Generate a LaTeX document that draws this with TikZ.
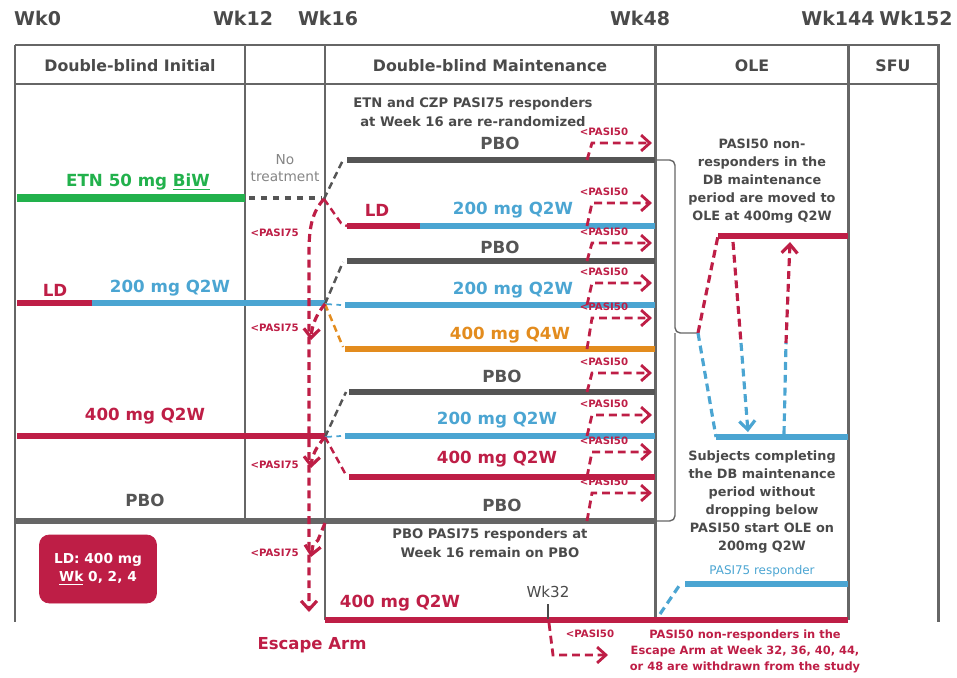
\documentclass[tikz,border=0pt]{standalone}
\usepackage{fontspec}
\setmainfont{DejaVu Sans}
\usetikzlibrary{arrows.meta,positioning,calc}
\definecolor{ink}{HTML}{4A4A4A}
\definecolor{frame}{HTML}{666666}
\definecolor{bargray}{HTML}{555555}
\definecolor{crimson}{HTML}{BE1E46}
\definecolor{sky}{HTML}{4BA5D2}
\definecolor{leaf}{HTML}{22B14C}
\definecolor{amber}{HTML}{E38C1E}
\tikzset{
  wklabel/.style={font=\bfseries\fontsize{10.8}{13}\selectfont, text=ink},
  header/.style={font=\bfseries\fontsize{9}{11}\selectfont, text=ink},
  frameline/.style={draw=frame, line width=1.7pt},
  armbar/.style={draw=#1, line width=3.4pt},
  armlabel/.style={font=\bfseries\fontsize{9.5}{11}\selectfont, text=#1},
  note/.style={font=\bfseries\fontsize{7.5}{10.6}\selectfont, text=ink, align=center},
  olenote/.style={font=\bfseries\fontsize{7.3}{10.2}\selectfont, text=ink, align=center},
  pasi/.style={font=\bfseries\fontsize{5.8}{7}\selectfont, text=crimson},
  escflow/.style={draw=#1, line width=1.8pt, dash pattern=on 4.5pt off 2.8pt},
  branch/.style={draw=#1, line width=1.4pt, dash pattern=on 4pt off 2.5pt},
  chev/.style={-{Straight Barb[length=5pt,width=9pt]}},
  brace/.style={draw=frame, line width=0.8pt, rounded corners=3pt}
}
\begin{document}
\begin{tikzpicture}[x=0.02cm,y=-0.02cm]
\useasboundingbox (0,0) rectangle (957,677);

% Week labels
\node[wklabel, anchor=west] (wk0) at (8,18) {Wk0};
\node[wklabel] (wk12) at (243,18) {Wk12};
\node[wklabel] (wk16) at (328,18) {Wk16};
\node[wklabel] (wk48) at (640,18) {Wk48};
\node[wklabel] (wk144) at (838,18) {Wk144};
\node[wklabel] (wk152) at (916,18) {Wk152};

% Frame
\draw[frameline] (15,45) -- (940,45);
\draw[frameline] (15,84) -- (940,84);
\draw[frameline] (15,45) -- (15,622);
\draw[frameline] (245,45) -- (245,521);
\draw[frameline] (325,45) -- (325,620);
\draw[frameline] (655,45) -- (655,620);
\draw[frameline] (848,45) -- (848,620);
\draw[frameline] (938,45) -- (938,622);
\draw[armbar=frame] (15,521) -- (655,521);
\node[header] (hinit) at (130,66) {Double-blind Initial};
\node[header] (hmaint) at (490,66) {Double-blind Maintenance};
\node[header] (hole) at (752,66) {OLE};
\node[header] (hsfu) at (893,66) {SFU};

% Initial period
\node[armlabel=leaf] (etn) at (138,182) {ETN 50 mg \underline{BiW}};
\draw[armbar=leaf, line width=4pt] (17,198) -- (245,198);
\node[font=\fontsize{7.8}{10}\selectfont, text=frame!80, align=center] (notrt) at (285,168) {No\\treatment};
\draw[bargray, line width=2.8pt, dash pattern=on 3.4pt off 3.4pt] (249,198) -- (322,198);
\node[armlabel=crimson] (ldl) at (55,290) {LD};
\node[armlabel=sky] (czpa) at (170,288) {200 mg Q2W};
\draw[armbar=crimson] (17,303) -- (92,303);
\draw[armbar=sky] (92,303) -- (325,303);
\node[armlabel=crimson] (czpb) at (145,416) {400 mg Q2W};
\draw[armbar=crimson] (17,436) -- (325,436);
\node[armlabel=bargray] (pboi) at (145,500) {PBO};
\node[draw=crimson, fill=crimson, rounded corners=5.5pt, minimum width=2.34cm, minimum height=1.36cm, align=center, text=white, font=\bfseries\fontsize{7.8}{10.5}\selectfont] (ldkey) at (98,569) {LD: 400 mg\\\underline{Wk} 0, 2, 4};

% Week 16 junctions
\coordinate (j1) at (324,199);
\coordinate (j2) at (325,304);
\coordinate (j3) at (325,437);
\coordinate (j4) at (325,523);
\draw[branch=bargray] (j1) -- (343,160);
\draw[branch=crimson] (j1) -- (341,223) -- (347,226);
\draw[branch=bargray] (j2) -- (343,262);
\draw[branch=sky, line width=1pt] (j2) -- (341,305);
\draw[branch=amber] (j2) -- (343,347);
\draw[branch=bargray] (j3) -- (346,392);
\draw[branch=sky, line width=1pt] (j3) -- (341,436);
\draw[branch=crimson] (j3) -- (346,475);

% Escape arm
\coordinate (escend) at (309,612);
\draw[escflow=crimson, chev] (j1) .. controls (312,212) and (309,228) .. (309,252) -- (escend);
\draw[escflow=crimson, chev] (j2) .. controls (316,315) and (312,325) .. (311,340);
\draw[escflow=crimson, chev] (j3) .. controls (316,447) and (312,456) .. (311,468);
\draw[escflow=crimson, chev] (j4) -- (318,540) -- (313,545) -- (311,557);
\foreach \y [count=\i] in {233,328,465,553}
  \node[pasi, anchor=east] (lt\i) at (305,\y) {<PASI75};
\node[font=\bfseries\fontsize{9.4}{11}\selectfont, text=crimson] (escarm) at (312,645) {Escape Arm};

% Maintenance arms
\node[note] (rerand) at (473,112) {ETN and CZP PASI75 responders\\at Week 16 are re-randomized};
\draw[armbar=bargray] (347,160) -- (655,160);
\node[armlabel=bargray] (pbo1) at (500,143) {PBO};
\node[armlabel=crimson] (ldm) at (377,210) {LD};
\node[armlabel=sky] (m1) at (513,210) {200 mg Q2W};
\draw[armbar=crimson] (347,226) -- (420,226);
\draw[armbar=sky] (420,226) -- (655,226);
\node[armlabel=bargray] (pbo2) at (500,247) {PBO};
\draw[armbar=bargray] (347,261) -- (655,261);
\node[armlabel=sky] (m2) at (513,290) {200 mg Q2W};
\draw[armbar=sky] (345,305) -- (655,305);
\node[armlabel=amber] (m3) at (510,335) {400 mg Q4W};
\draw[armbar=amber] (345,349) -- (655,349);
\node[armlabel=bargray] (pbo3) at (502,376) {PBO};
\draw[armbar=bargray] (349,392) -- (655,392);
\node[armlabel=sky] (m4) at (497,420) {200 mg Q2W};
\draw[armbar=sky] (345,436) -- (655,436);
\node[armlabel=crimson] (m5) at (497,459) {400 mg Q2W};
\draw[armbar=crimson] (349,477) -- (655,477);
\node[armlabel=bargray] (pbo4) at (502,505) {PBO};

% <PASI50 exits
\foreach \b/\a [count=\i] in {160/143,226/203,261/243,305/283,349/318,392/373,436/415,477/452,521/493}{
  \coordinate (pb\i) at (587,\b);
  \coordinate (pa\i) at (652,\a);
  \draw[escflow=crimson, line width=1.6pt, chev] (pb\i) -- ([xshift=0.1cm]pb\i |- pa\i) -- (pa\i);
  \node[pasi] (pl\i) at (604,\a-11) {<PASI50};
}

% PBO remain and escape bar
\node[note] (pboremain) at (490,543) {PBO PASI75 responders at\\Week 16 remain on PBO};
\node[armlabel=crimson] (escdose) at (400,603) {400 mg Q2W};
\draw[armbar=crimson] (325,620) -- (848,620);
\node[font=\fontsize{8.6}{10}\selectfont, text=ink] (wk32) at (548,592) {Wk32};
\draw[draw=ink, line width=1.2pt] (wk32.south) -- (548,619);
\coordinate (wdr) at (608,655);
\draw[escflow=crimson, line width=1.6pt, chev] (549,623) -- (553,655) -- (wdr);
\node[pasi] (pl10) at (590,634) {<PASI50};
\node[font=\bfseries\fontsize{6.5}{9.1}\selectfont, text=crimson, align=center] (withdraw) at (745,651) {PASI50 non-responders in the\\Escape Arm at Week 32, 36, 40, 44,\\or 48 are withdrawn from the study};

% OLE
\draw[brace] (655,160) -| (675,333) -- (698,333);
\draw[brace] (655,521) -| (675,333);
\coordinate (bracetip) at (698,333);
\node[olenote] (oletop) at (762,181) {PASI50 non-\\responders in the\\DB maintenance\\period are moved to\\OLE at 400mg Q2W};
\draw[armbar=crimson] (718,236) -- (848,236);
\coordinate (olered) at (718,236);
\coordinate (oleblue) at (716,437);
\draw[escflow=crimson] (bracetip) -- (olered);
\draw[escflow=sky] (bracetip) -- (oleblue);
\draw[armbar=sky] (716,437) -- (848,437);
\coordinate (dA) at (733,242);
\coordinate (dB) at (741,343);
\coordinate (dC) at (748,432);
\draw[escflow=crimson] (dA) -- (dB);
\draw[escflow=sky, chev] (dB) -- (dC);
\coordinate (uA) at (784,434);
\coordinate (uB) at (786,343);
\coordinate (uC) at (790,242);
\draw[escflow=sky] (uA) -- (uB);
\draw[escflow=crimson, chev] (uB) -- (uC);
\node[olenote] (olebot) at (762,502) {Subjects completing\\the DB maintenance\\period without\\dropping below\\PASI50 start OLE on\\200mg Q2W};
\node[font=\fontsize{6.8}{8}\selectfont, text=sky] (resp) at (762,571) {PASI75 responder};
\draw[armbar=sky] (685,584) -- (848,584);
\draw[escflow=sky] (660,614) -- (679,586);
\end{tikzpicture}
\end{document}
